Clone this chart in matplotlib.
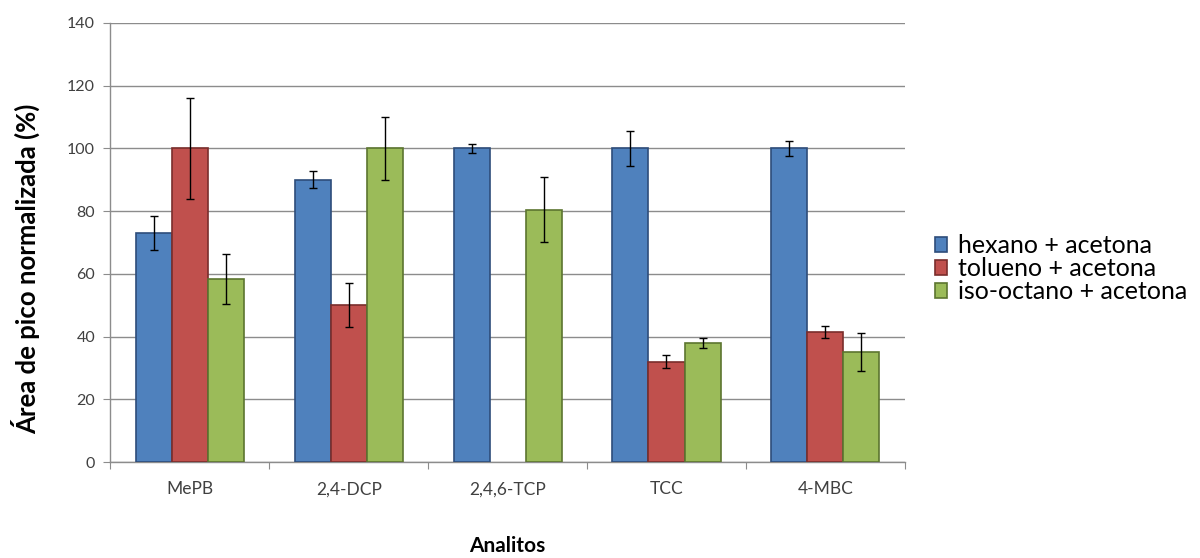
import matplotlib.pyplot as plt
import numpy as np

plt.rcParams['font.family'] = ['Lato', 'DejaVu Sans']

analitos = ['MePB', '2,4-DCP', '2,4,6-TCP', 'TCC', '4-MBC']
series = ['hexano + acetona', 'tolueno + acetona', 'iso-octano + acetona']

hexano = [73, 90, 100, 100, 100]
hexano_err = [5.5, 2.7, 1.5, 5.5, 2.5]
tolueno = [100, 50, 0, 32, 41.5]
tolueno_err = [16, 7, 0, 2, 2]
isooctano = [58.3, 100, 80.5, 38, 35]
isooctano_err = [8, 10, 10.5, 1.5, 6]

faces = ['#4F81BD', '#C0504D', '#9BBB59']
edges = ['#2E4D7A', '#7A2E2C', '#5C7530']

fig = plt.figure(figsize=(12, 5.58), dpi=100)
ax = fig.add_axes([0.092, 0.172, 0.662, 0.787])

x = np.arange(len(analitos))
w = 0.227
data = [(hexano, hexano_err), (tolueno, tolueno_err), (isooctano, isooctano_err)]
for i, (vals, errs) in enumerate(data):
    pos = x + (i - 1) * w
    v = np.array(vals, dtype=float)
    e = np.array(errs, dtype=float)
    mask = v > 0
    ax.bar(pos[mask], v[mask], width=w, color=faces[i], edgecolor=edges[i],
           linewidth=1.2, label=series[i], zorder=3)
    ax.errorbar(pos[mask], v[mask], yerr=e[mask], fmt='none', ecolor='black',
                elinewidth=1.0, capsize=3, capthick=1.0, zorder=4)

ax.set_xlim(-0.5, len(analitos) - 0.5)
ax.set_ylim(0, 140)
ax.set_yticks(np.arange(0, 141, 20))
ax.yaxis.grid(True, color='#8C8C8C', linewidth=1.0, zorder=0)
ax.set_axisbelow(True)

# category boundaries get tick marks, labels sit at the group centres
ax.set_xticks(np.arange(-0.5, len(analitos)), minor=False)
ax.set_xticklabels([])
ax.set_xticks(x, minor=True)
ax.set_xticklabels(analitos, minor=True)
ax.tick_params(axis='x', which='minor', length=0, pad=14, labelsize=12.5, labelcolor='#404040')
ax.tick_params(axis='x', which='major', length=5, direction='out', color='#8C8C8C')
ax.tick_params(axis='y', length=5, direction='out', color='#8C8C8C', labelsize=11.5,
               labelcolor='#404040', pad=6)

for s in ['top', 'right']:
    ax.spines[s].set_visible(False)
for s in ['left', 'bottom']:
    ax.spines[s].set_color('#8C8C8C')
    ax.spines[s].set_linewidth(1.0)

ax.set_ylabel('Área de pico normalizada (%)', fontsize=18.5, fontweight='bold', va='center')
ax.yaxis.set_label_coords(-0.107, 0.44)
ax.set_xlabel('Analitos', fontsize=15, fontweight='bold', va='center')
ax.xaxis.set_label_coords(0.5, -0.192)

handles, labels = ax.get_legend_handles_labels()
ax.legend(handles, labels, loc='center left', bbox_to_anchor=(1.025, 0.44), frameon=False,
          fontsize=18, handlelength=0.5, handleheight=0.5, handletextpad=0.45,
          labelspacing=0.0, borderaxespad=0)

fig.savefig('out.png', dpi=100)
